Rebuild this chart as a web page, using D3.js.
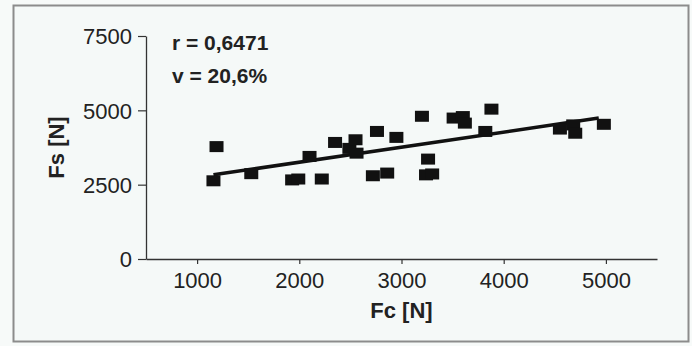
<!DOCTYPE html>
<html>
<head>
<meta charset="utf-8">
<script src="https://cdn.jsdelivr.net/npm/d3@7"></script>
<style>
  body { margin: 0; background: #f7faf9; }
  svg { display: block; font-family: "Liberation Sans", Arial, sans-serif; }
</style>
</head>
<body>
<div id="chart"></div>
<script>
// measured values, Fc vs Fs
const fc = [1190, 1160, 1530, 1930, 1990, 2220, 2100, 2350, 2490, 2550, 2560, 2760, 2950, 2720,
            2860, 3200, 3510, 3600, 3620, 3880, 3820, 3260, 3240, 3300, 4550, 4680, 4700, 4980]
const fs = [3780, 2630, 2870, 2660, 2690, 2690, 3450, 3920, 3720, 4010, 3560, 4290, 4090, 2800,
            2890, 4800, 4740, 4790, 4570, 5040, 4290, 3360, 2830, 2860, 4370, 4510, 4230, 4530]

// trend line ends
const trendX = [1160, 4930]
const trendY = [2830, 4740]

const xTicks = [1000, 2000, 3000, 4000, 5000]
const yTicks = [0, 2500, 5000, 7500]

const stats = ["r = 0,6471", "v = 20,6%"]

const width = 692
const height = 346
const margin = { top: 36, right: 35, bottom: 87, left: 146 }

const x = d3.scaleLinear()
    .domain([500, 5500])
    .range([margin.left, width - margin.right])

const y = d3.scaleLinear()
    .domain([0, 7500])
    .range([height - margin.bottom, margin.top])

const fmt = d3.format("d")

const svg = d3.select("#chart")
  .append("svg")
    .attr("width", width)
    .attr("height", height)

svg.append("rect")
    .attr("x", 13.5)
    .attr("y", 5.5)
    .attr("width", 675)
    .attr("height", 336)
    .attr("fill", "#f5f9f8")
    .attr("stroke", "#8c8c8c")
    .attr("stroke-width", 2)

const xAxis = svg.append("g")
    .attr("transform", `translate(0,${y(0)})`)
    .call(d3.axisBottom(x).tickValues(xTicks).tickFormat(fmt).tickSize(5).tickSizeOuter(0).tickPadding(8))

const yAxis = svg.append("g")
    .attr("transform", `translate(${x(500)},0)`)
    .call(d3.axisLeft(y).tickValues(yTicks).tickFormat(fmt).tickSize(8).tickSizeOuter(0).tickPadding(6))

for (const g of [xAxis, yAxis]) {
  g.select(".domain").attr("stroke", "#333").attr("stroke-width", 1.3)
  g.selectAll(".tick line").attr("stroke", "#333").attr("stroke-width", 1.2)
  g.selectAll(".tick text")
      .attr("fill", "#222")
      .style("font-size", "22px")
}
xAxis.selectAll(".tick text").attr("dy", "0.72em")
yAxis.selectAll(".tick text").attr("dy", "0.36em")

svg.append("text")
    .attr("x", (x.range()[0] + x.range()[1]) / 2)
    .attr("y", 318)
    .attr("text-anchor", "middle")
    .style("font-size", "22px")
    .style("font-weight", "bold")
    .attr("fill", "#222")
    .text("Fc [N]")

svg.append("text")
    .attr("transform", `translate(64,${(y.range()[0] + y.range()[1]) / 2}) rotate(-90)`)
    .attr("text-anchor", "middle")
    .style("font-size", "22px")
    .style("font-weight", "bold")
    .attr("fill", "#222")
    .text("Fs [N]")

svg.append("g")
  .selectAll("text")
  .data(stats)
  .join("text")
    .attr("x", 172)
    .attr("y", (d, i) => 50 + i * 33)
    .style("font-size", "21px")
    .style("font-weight", "bold")
    .attr("fill", "#222")
    .text(d => d)

svg.append("line")
    .attr("x1", x(trendX[0]))
    .attr("y1", y(trendY[0]))
    .attr("x2", x(trendX[1]))
    .attr("y2", y(trendY[1]))
    .attr("stroke", "#111")
    .attr("stroke-width", 3.5)

const points = fc.map((d, i) => ({ fc: d, fs: fs[i] }))

svg.append("g")
  .selectAll("rect")
  .data(points)
  .join("rect")
    .attr("x", d => x(d.fc) - 7)
    .attr("y", d => y(d.fs) - 5.5)
    .attr("width", 14)
    .attr("height", 11)
    .attr("fill", "#111")
</script>
</body>
</html>
